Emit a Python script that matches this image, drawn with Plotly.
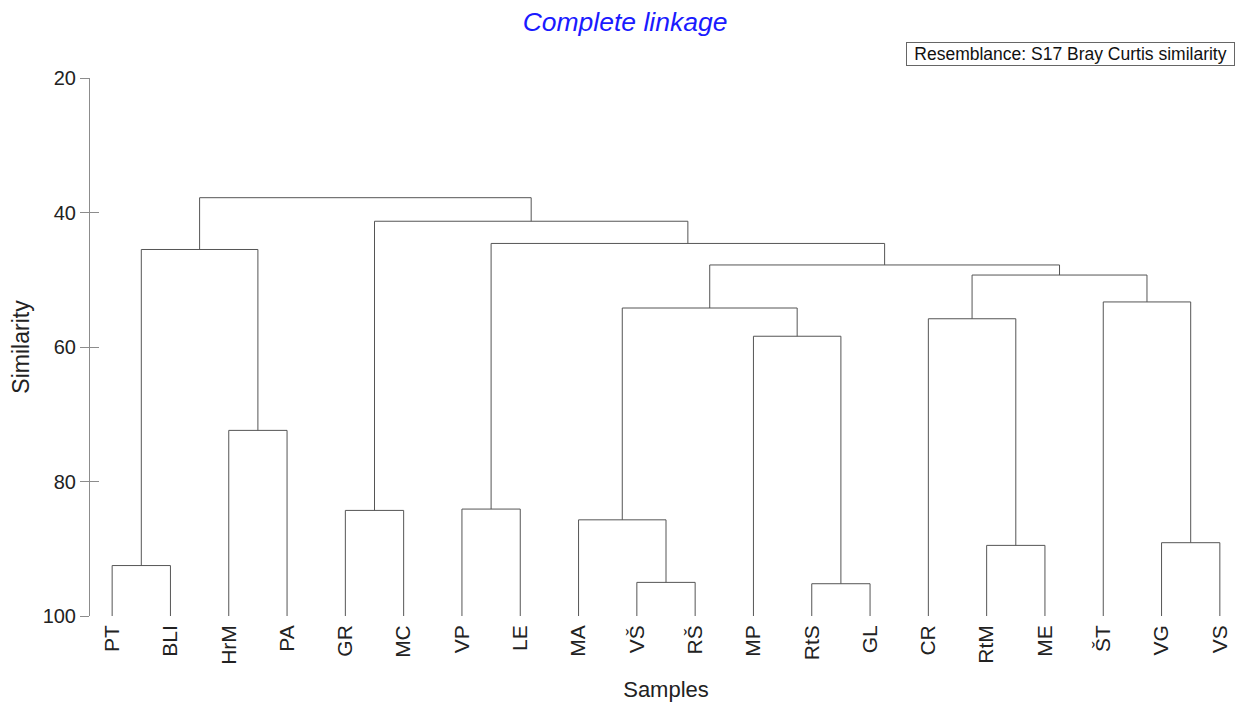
import plotly.graph_objects as go

# Leaves in dendrogram order
leaves = ["PT", "BLI", "HrM", "PA", "GR", "MC", "VP", "LE", "MA", "VŠ",
          "RŠ", "MP", "RtS", "GL", "CR", "RtM", "ME", "ŠT", "VG", "VS"]

# Merges: cluster name, left child, right child, similarity at merge
merge_names = ["c1", "c2", "c3", "c4", "c5", "c6", "c7", "c8", "c9", "c10",
               "c11", "c12", "c13", "c14", "c15", "c16", "c17", "c18", "c19"]
merge_left = ["PT", "HrM", "c1", "GR", "VP", "VŠ", "MA", "RtS", "MP", "c7",
              "RtM", "CR", "VG", "ŠT", "c12", "c10", "c5", "c4", "c3"]
merge_right = ["BLI", "PA", "c2", "MC", "LE", "RŠ", "c6", "GL", "c8", "c9",
               "ME", "c11", "VS", "c13", "c14", "c15", "c16", "c17", "c18"]
merge_sim = [92.5, 72.4, 45.5, 84.3, 84.1, 95.0, 85.7, 95.2, 58.4, 54.2,
             89.5, 55.8, 89.1, 53.3, 49.3, 47.8, 44.6, 41.3, 37.8]

leaf_sim = 100.0
y_ticks = [20, 40, 60, 80, 100]

pos = {name: float(i) for i, name in enumerate(leaves)}
hgt = {name: leaf_sim for name in leaves}

fig = go.Figure()
line_style = dict(color="#555555", width=1)
for name, a, b, s in zip(merge_names, merge_left, merge_right, merge_sim):
    xa, xb = pos[a], pos[b]
    fig.add_trace(go.Scatter(
        x=[xa, xa, xb, xb], y=[hgt[a], s, s, hgt[b]],
        mode="lines", line=line_style, hoverinfo="skip", showlegend=False))
    pos[name] = (xa + xb) / 2
    hgt[name] = s

# invisible trace for the overlay axis (inner half of ticks)
fig.add_trace(go.Scatter(x=[0], y=[leaf_sim], yaxis="y2", mode="markers",
                         marker=dict(opacity=0), hoverinfo="skip", showlegend=False))

font_family = "Liberation Sans, Arial, sans-serif"
n = len(leaves)
fig.update_layout(
    width=1236, height=694,
    margin=dict(l=82, r=2, t=70, b=83),
    paper_bgcolor="white", plot_bgcolor="white",
    font=dict(family=font_family, color="#222222"),
    title=dict(text="<i>Complete linkage</i>", x=0.4992, xanchor="center",
               xref="container", yref="container", y=0.98, yanchor="middle",
               font=dict(size=26.5, color="#1a1aff", family=font_family)),
    xaxis=dict(
        range=[-0.38, n - 1 + 0.38],
        tickmode="array", tickvals=list(range(n)), ticktext=leaves,
        tickangle=-90, ticks="", showline=False, showgrid=False, zeroline=False,
        ticklabelstandoff=4,
        tickfont=dict(size=21, color="#222222"),
        title=dict(text="Samples", font=dict(size=22, color="#222222"), standoff=20),
    ),
    yaxis=dict(
        range=[100, 20], tickmode="array", tickvals=y_ticks,
        ticks="outside", ticklen=9, tickcolor="#8c8c8c", tickwidth=1,
        showline=True, linecolor="#8c8c8c", linewidth=1,
        showgrid=False, zeroline=False,
        tickfont=dict(size=20, color="#222222"),
        title=dict(text="Similarity", font=dict(size=23, color="#222222"), standoff=6),
    ),
    yaxis2=dict(
        range=[100, 20], overlaying="y", side="left", anchor="x",
        tickmode="array", tickvals=y_ticks,
        ticks="inside", ticklen=9, tickcolor="#8c8c8c", tickwidth=1,
        showticklabels=False, showline=False, showgrid=False, zeroline=False,
    ),
    annotations=[dict(
        text="Resemblance: S17 Bray Curtis similarity",
        xref="paper", yref="paper", x=1, y=1.0447, xanchor="right", yanchor="middle",
        xshift=-7, width=325, height=20, align="center",
        showarrow=False, font=dict(size=17.5, color="#111111", family=font_family),
        bordercolor="#666666", borderwidth=1, borderpad=1, bgcolor="white",
    )],
)

fig.write_html("out.html")
